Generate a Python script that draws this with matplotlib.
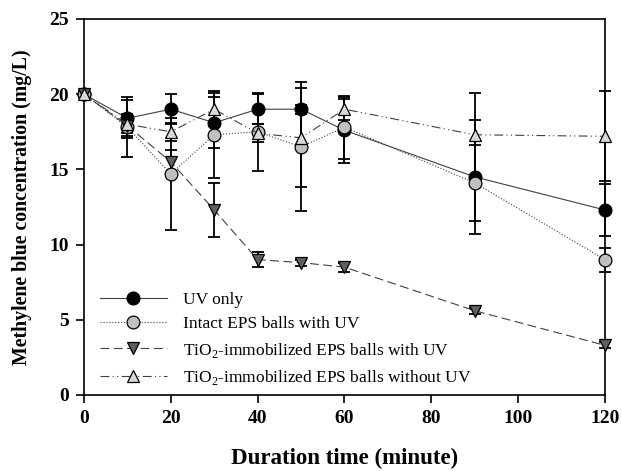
import matplotlib
matplotlib.use("Agg")
import matplotlib.pyplot as plt

plt.rcParams['font.family'] = ['Liberation Serif', 'DejaVu Serif']
plt.rcParams['mathtext.fontset'] = 'custom'
plt.rcParams['mathtext.rm'] = 'Liberation Serif'

# Data
time_min = [0, 10, 20, 30, 40, 50, 60, 90, 120]

uv_only = [20.0, 18.4, 19.0, 18.1, 19.0, 19.0, 17.6, 14.5, 12.3]
uv_only_err = [0.2, 1.2, 1.0, 1.7, 1.0, 0.3, 2.2, 3.8, 1.7]

intact = [20.0, 17.8, 14.7, 17.3, 17.5, 16.5, 17.8, 14.1, 9.0]
intact_err = [0.2, 2.0, 3.7, 2.9, 2.6, 4.3, 2.1, 2.5, 0.8]

tio2_uv = [20.0, 17.9, 15.5, 12.3, 9.0, 8.8, 8.5, 5.6, 3.3]
tio2_uv_err = [0.2, 0.8, 0.8, 1.8, 0.5, 0.2, 0.3, 0.2, 0.2]

tio2_dark = [20.0, 18.0, 17.5, 19.0, 17.4, 17.1, 19.0, 17.3, 17.2]
tio2_dark_err = [0.2, 0.6, 0.6, 1.1, 0.6, 3.3, 0.7, 2.8, 3.0]

labels = ['UV only',
          'Intact EPS balls with UV',
          r'TiO$_2$-immobilized EPS balls with UV',
          r'TiO$_2$-immobilized EPS balls without UV']

fig = plt.figure(figsize=(6.22, 4.71), dpi=100)
ax = fig.add_axes([0.135, 0.1614, 0.8377, 0.7983])

series = [
    (uv_only, uv_only_err, 'o', 'black', '-'),
    (intact, intact_err, 'o', '#c0c0c0', ':'),
    (tio2_uv, tio2_uv_err, 'v', '#5f5f5f', (0, (8, 4))),
    (tio2_dark, tio2_dark_err, '^', '#d9d9d9', (0, (8, 3, 1, 3, 1, 3))),
]

for (vals, err, mk, fc, ls), lab in zip(series, labels):
    eb = ax.errorbar(time_min, vals, yerr=err, fmt='none', ecolor='black',
                     elinewidth=1.3, capsize=4.5, capthick=1.3, zorder=2)
    for art in eb.lines[1] + eb.lines[2]:
        art.set_clip_on(False)
    ax.plot(time_min, vals, linestyle=ls, color='#404040', linewidth=0.8,
            marker=mk, markersize=9.2, markerfacecolor=fc,
            markeredgecolor='black', markeredgewidth=0.9, label=lab,
            zorder=3, clip_on=False)

ax.set_xlim(0, 120)
ax.set_ylim(0, 25)
ax.set_xticks(range(0, 121, 20))
ax.set_yticks(range(0, 26, 5))
ax.tick_params(direction='out', length=6, width=1.2, labelsize=14, pad=5)
for t in ax.get_xticklabels() + ax.get_yticklabels():
    t.set_fontweight('bold')
for s in ax.spines.values():
    s.set_linewidth(1.2)

ax.set_xlabel('Duration time (minute)', fontsize=16.5, fontweight='bold', labelpad=15)
ax.set_ylabel('Methylene blue concentration (mg/L)', fontsize=14.3, fontweight='bold', labelpad=12)

ax.legend(loc='lower left', bbox_to_anchor=(0.0, -0.02), frameon=False,
          fontsize=12.5, handlelength=3.9, handletextpad=0.9, labelspacing=0.48)

fig.savefig('out.png', dpi=100)
